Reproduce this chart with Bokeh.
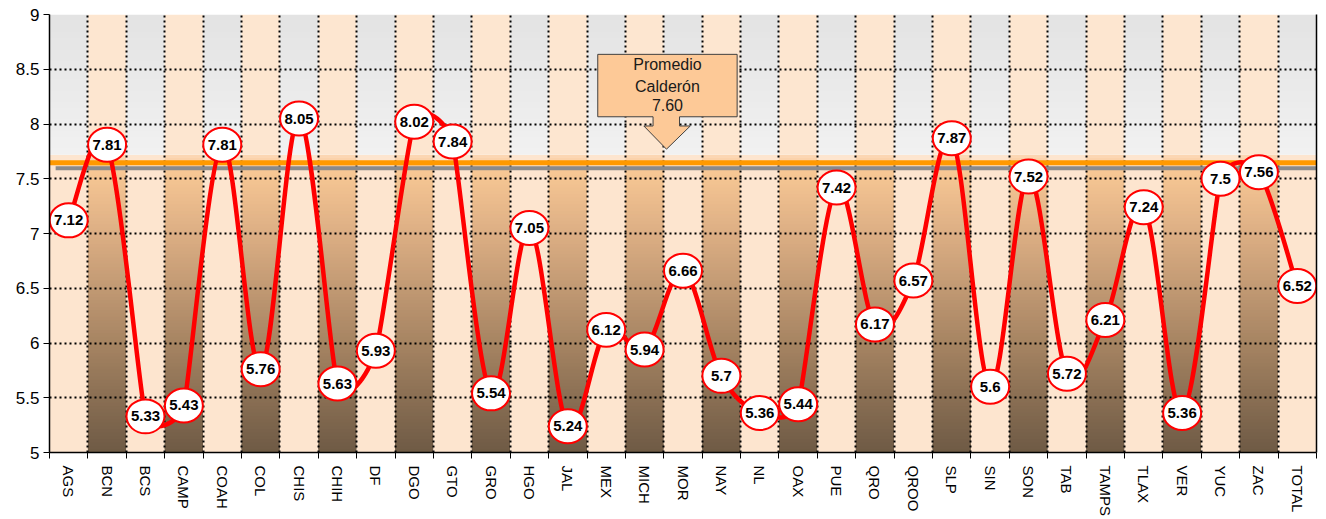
import numpy as np
from bokeh.plotting import figure
from bokeh.models import (FixedTicker, Range1d, LinearAxis, NumeralTickFormatter,
                          ColumnDataSource)
from bokeh.core.properties import value
from bokeh.embed import file_html
from bokeh.resources import INLINE

# ---------------- data ----------------
states = ["AGS", "BCN", "BCS", "CAMP", "COAH", "COL", "CHIS", "CHIH", "DF", "DGO",
          "GTO", "GRO", "HGO", "JAL", "MEX", "MICH", "MOR", "NAY", "NL", "OAX",
          "PUE", "QRO", "QROO", "SLP", "SIN", "SON", "TAB", "TAMPS", "TLAX", "VER",
          "YUC", "ZAC", "TOTAL"]
scores = [7.12, 7.81, 5.33, 5.43, 7.81, 5.76, 8.05, 5.63, 5.93, 8.02,
          7.84, 5.54, 7.05, 5.24, 6.12, 5.94, 6.66, 5.70, 5.36, 5.44,
          7.42, 6.17, 6.57, 7.87, 5.60, 7.52, 5.72, 6.21, 7.24, 5.36,
          7.50, 7.56, 6.52]
y_ticks = [5, 5.5, 6, 6.5, 7, 7.5, 8, 8.5, 9]
promedio_calderon = 7.60
promedio_line = 7.645
callout_title = ["Promedio", "Calderón"]

# ---------------- setup ----------------
FONT = "Liberation Sans"
n = len(states)
xs = [float(i + 1) for i in range(n)]
Y0, Y1 = 5.0, 9.0
SPLIT = 7.72
W, H = 1326, 519
BL, BT, BR = 49, 14, 10

p = figure(width=W, height=H, x_range=Range1d(0.5, n + 0.5), y_range=Range1d(Y0, Y1),
           output_backend="svg", toolbar_location=None,
           min_border_left=BL, min_border_top=BT, min_border_right=BR, min_border_bottom=65)
p.outline_line_color = None
p.background_fill_color = "white"


def hex2rgb(h):
    return tuple(int(h[i:i + 2], 16) for i in (1, 3, 5))


def ramp(stops, v):
    vals = [s[0] for s in stops]
    cols = np.array([hex2rgb(s[1]) for s in stops], float)
    rgb = [np.interp(v, vals, cols[:, k]) for k in range(3)]
    return "#%02x%02x%02x" % tuple(int(round(c)) for c in rgb)


dark_stops = [(5.0, "#6E5A45"), (6.0, "#A68462"), (7.0, "#DCAE84"),
              (7.6, "#F9C995"), (7.72, "#FCD8B6")]
gray_stops = [(7.72, "#F1F1F1"), (9.0, "#E3E3E3")]

bg = dict(left=[], right=[], bottom=[], top=[], color=[])


def add(l, r, b, t, c):
    bg["left"].append(l); bg["right"].append(r)
    bg["bottom"].append(b); bg["top"].append(t); bg["color"].append(c)


nS_low, nS_up = 90, 24
e_low = np.linspace(Y0, SPLIT, nS_low + 1)
e_up = np.linspace(SPLIT, Y1, nS_up + 1)
for i, x in enumerate(xs):
    l, r = x - 0.5, x + 0.5
    if i % 2 == 1:  # dark gradient column
        h = e_low[1] - e_low[0]
        for j in range(nS_low):
            add(l, r, e_low[j], min(e_low[j + 1] + 0.6 * h, SPLIT),
                ramp(dark_stops, 0.5 * (e_low[j] + e_low[j + 1])))
        add(l, r, SPLIT, Y1, "#FDE6D0")
    else:
        add(l, r, Y0, SPLIT, "#FDE5CF")
        h = e_up[1] - e_up[0]
        for j in range(nS_up):
            add(l, r, e_up[j], min(e_up[j + 1] + 0.6 * h, Y1),
                ramp(gray_stops, 0.5 * (e_up[j] + e_up[j + 1])))

p.quad(left="left", right="right", bottom="bottom", top="top", fill_color="color",
       line_color=None, source=ColumnDataSource(bg), level="image")

# ---------------- grid ----------------
p.xgrid.ticker = FixedTicker(ticks=[x + 0.5 for x in xs[:-1]])
p.ygrid.ticker = FixedTicker(ticks=y_ticks)
for g in (p.xgrid, p.ygrid):
    g.grid_line_color = "black"
    g.grid_line_dash = "2 3"
    g.grid_line_width = 2

# ---------------- axes ----------------
xa = p.xaxis[0]
xa.ticker = FixedTicker(ticks=xs, minor_ticks=[x - 0.5 for x in xs] + [n + 0.5])
xa.major_label_overrides = {i + 1: s for i, s in enumerate(states)}
xa.major_tick_line_color = None
xa.major_tick_out = 6
xa.major_tick_in = 0
xa.minor_tick_line_color = "black"
xa.minor_tick_out = 6
xa.minor_tick_in = 0
xa.major_label_orientation = "vertical"
xa.major_label_standoff = 7
xa.major_label_text_font = FONT
xa.major_label_text_font_size = "15px"
xa.major_label_text_color = "black"
xa.axis_line_color = "black"
xa.axis_line_width = 1.5

ya = p.yaxis[0]
ya.ticker = FixedTicker(ticks=y_ticks, minor_ticks=[])
ya.formatter = NumeralTickFormatter(format="0.[0]")
ya.major_tick_out = 6
ya.major_tick_in = 0
ya.major_tick_line_color = "black"
ya.minor_tick_line_color = None
ya.major_label_standoff = 4
ya.major_label_text_font = FONT
ya.major_label_text_font_size = "17px"
ya.major_label_text_color = "black"
ya.axis_line_color = "black"
ya.axis_line_width = 1.5

ra = LinearAxis(ticker=FixedTicker(ticks=[]), axis_line_color="black", axis_line_width=1.5,
                major_tick_line_color=None, minor_tick_line_color=None,
                major_label_text_font_size="0px", major_label_standoff=0,
                major_tick_out=0, minor_tick_out=0)
p.add_layout(ra, "right")

# ---------------- promedio lines ----------------
p.segment(x0=[0.5], x1=[n + 0.5], y0=[promedio_line], y1=[promedio_line],
          line_color="#FF9900", line_width=5)
p.segment(x0=[0.66], x1=[n + 0.5], y0=[promedio_calderon - 0.005], y1=[promedio_calderon - 0.005],
          line_color="#8A8A8A", line_width=4)

# ---------------- smoothed red line (Excel-like, overshoot limited) ----------------
sx = (W - BL - BR) / n          # px per category
sy = 440.0 / (Y1 - Y0)          # px per unit
P = np.column_stack([np.array(xs) * sx, np.array(scores) * sy])
T = np.zeros_like(P)
for i in range(n):
    a = P[max(i - 1, 0)]
    b = P[min(i + 1, n - 1)]
    t = (b - a) / 6.0
    d = []
    if i > 0:
        d.append(np.hypot(*(P[i] - P[i - 1])))
    if i < n - 1:
        d.append(np.hypot(*(P[i + 1] - P[i])))
    L = np.hypot(*t)
    lim = 0.5 * min(d)
    if L > lim > 0:
        t = t * lim / L
    T[i] = t
C0 = P[:-1] + T[:-1]
C1 = P[1:] - T[1:]
p.bezier(x0=P[:-1, 0] / sx, y0=P[:-1, 1] / sy, x1=P[1:, 0] / sx, y1=P[1:, 1] / sy,
         cx0=C0[:, 0] / sx, cy0=C0[:, 1] / sy, cx1=C1[:, 0] / sx, cy1=C1[:, 1] / sy,
         line_color="#FF0000", line_width=4.5, line_cap="round")

# ---------------- markers + labels ----------------
src = ColumnDataSource(dict(x=xs, y=scores, lab=[f"{v:g}" for v in scores]))
p.ellipse(x="x", y="y", width=38, height=34, width_units="screen", height_units="screen",
          fill_color="white", line_color="#FF0000", line_width=2, source=src)
p.text(x="x", y="y", text="lab", text_align="center", text_baseline="middle",
       text_font=value(FONT), text_font_style="bold", text_font_size="15px",
       text_color="black", source=src)

# ---------------- callout ----------------
bx0, bx1, by0, by1 = 14.78, 18.41, 8.066, 8.636
sx0, sx1, hx0, hx1, ax, hy, ay = 16.22, 16.91, 15.98, 17.19, 16.57, 7.982, 7.770
p.patch(x=[bx0, bx1, bx1, sx1, sx1, hx1, ax, hx0, sx0, sx0, bx0],
        y=[by1, by1, by0, by0, hy, hy, ay, hy, hy, by0, by0],
        fill_color="#FDC997", line_color="#404040", line_width=1)
cx = 0.5 * (bx0 + bx1)
p.text(x=[cx, cx, cx], y=[8.545, 8.345, 8.17],
       text=callout_title + [f"{promedio_calderon:.2f}"],
       text_align="center", text_baseline="middle", text_font=value(FONT),
       text_font_size="16px", text_color="#1a1a1a")

open("out.html", "w").write(file_html(p, INLINE))
